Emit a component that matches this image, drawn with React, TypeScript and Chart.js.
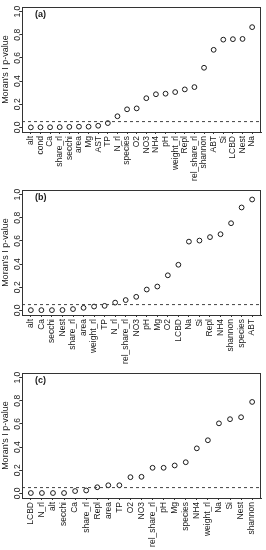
import React, { useEffect, useRef } from "react";
import { Chart, registerables } from "chart.js";
Chart.register(...registerables);

const catsA = ["alt", "cond", "Ca", "share_rl", "secchi", "area", "Mg", "AST", "TP", "N_rl", "species", "O2", "NO3", "NH4", "pH", "weight_rl", "Repl", "rel_share_rl", "shannon", "ABT", "Si", "LCBD", "Nest", "Na"];
const valsA = [0.0, 0.001, 0.001, 0.002, 0.004, 0.006, 0.006, 0.014, 0.037, 0.096, 0.156, 0.164, 0.252, 0.286, 0.291, 0.305, 0.328, 0.348, 0.515, 0.67, 0.758, 0.762, 0.764, 0.866];

const catsB = ["alt", "Ca", "secchi", "Nest", "share_rl", "area", "weight_rl", "TP", "N_rl", "rel_share_rl", "NO3", "pH", "Mg", "O2", "LCBD", "Na", "Si", "Repl", "NH4", "shannon", "species", "ABT"];
const valsB = [0.002, 0.002, 0.002, 0.003, 0.011, 0.022, 0.033, 0.039, 0.067, 0.089, 0.117, 0.18, 0.206, 0.303, 0.394, 0.594, 0.603, 0.633, 0.658, 0.753, 0.889, 0.958];

const catsC = ["LCBD", "N_rl", "alt", "secchi", "Ca", "share_rl", "Repl", "area", "TP", "O2", "NO3", "rel_share_rl", "pH", "Mg", "species", "NH4", "weight_rl", "Na", "Si", "Nest", "shannon"];
const valsC = [0.003, 0.003, 0.003, 0.003, 0.02, 0.025, 0.053, 0.07, 0.07, 0.14, 0.143, 0.221, 0.221, 0.241, 0.269, 0.389, 0.459, 0.605, 0.641, 0.658, 0.79];

const threshold = 0.05;
const yTicks = [0, 0.2, 0.4, 0.6, 0.8, 1.0];
const yTitle = "Moran's I p-value";

const FONT = '"Liberation Sans", Arial, Helvetica, sans-serif';
const INK = "#1a1a1a";

const boxPlugin = {
  id: "box",
  afterDraw(chart: any) {
    const { ctx, chartArea } = chart;
    ctx.save();
    ctx.strokeStyle = "#333";
    ctx.lineWidth = 1;
    ctx.strokeRect(
      Math.round(chartArea.left) + 0.5,
      Math.round(chartArea.top) + 0.5,
      Math.round(chartArea.right - chartArea.left) - 1,
      Math.round(chartArea.bottom - chartArea.top)
    );
    ctx.restore();
  },
};

function Panel({ label, cats, vals, height }: { label: string; cats: string[]; vals: number[]; height: number }) {
  const ref = useRef<HTMLCanvasElement>(null);
  useEffect(() => {
    const n = cats.length;
    const ext = (n - 1) * 0.04;
    const xmin = 1 - ext;
    const xmax = n + ext;
    const chart = new Chart(ref.current as HTMLCanvasElement, {
      type: "scatter",
      data: {
        datasets: [
          {
            data: [
              { x: xmin, y: threshold },
              { x: xmax, y: threshold },
            ],
            showLine: true,
            borderColor: "#444",
            borderWidth: 1,
            borderDash: [3, 3],
            pointRadius: 0,
          },
          {
            data: vals.map((v, i) => ({ x: i + 1, y: v })),
            pointStyle: "circle",
            pointRadius: 2.4,
            borderColor: INK,
            borderWidth: 1,
            backgroundColor: "rgba(0,0,0,0)",
          },
        ],
      } as any,
      options: {
        responsive: false,
        animation: false,
        devicePixelRatio: 1,
        layout: { padding: { top: 7, right: 3, left: 0, bottom: 0 } },
        plugins: { legend: { display: false }, tooltip: { enabled: false } },
        scales: {
          x: {
            type: "linear",
            min: xmin,
            max: xmax,
            afterBuildTicks: (s: any) => {
              s.ticks = cats.map((_, i) => ({ value: i + 1 }));
            },
            afterFit: (s: any) => {
              s.height = height - 132;
            },
            ticks: {
              autoSkip: false,
              minRotation: 90,
              maxRotation: 90,
              padding: 2,
              color: INK,
              font: { family: FONT, size: 8.5 },
              callback: (v: any) => cats[Math.round(Number(v)) - 1] ?? "",
            },
            grid: { drawOnChartArea: false, drawTicks: true, tickLength: 2, color: "#333" },
            border: { display: true, color: "#333" },
          },
          y: {
            type: "linear",
            min: -0.04,
            max: 1.04,
            afterBuildTicks: (s: any) => {
              s.ticks = yTicks.map((v) => ({ value: v }));
            },
            afterFit: (s: any) => {
              s.width = 22;
            },
            ticks: {
              minRotation: 90,
              maxRotation: 90,
              crossAlign: "center",
              padding: -4,
              color: INK,
              font: { family: FONT, size: 8.5 },
              callback: (v: any) => Number(v).toFixed(1),
            },
            grid: { drawOnChartArea: false, drawTicks: true, tickLength: 2, color: "#333" },
            border: { display: true, color: "#333" },
            title: {
              display: true,
              text: yTitle,
              color: INK,
              font: { family: FONT, size: 9 },
              padding: { top: 0, bottom: 0 },
            },
          },
        },
      } as any,
      plugins: [boxPlugin],
    });
    return () => chart.destroy();
  }, []);
  return (
    <div style={{ position: "relative", width: 266, height }}>
      <canvas ref={ref} width={266} height={height} style={{ display: "block" }} />
      <div
        style={{
          position: "absolute",
          left: 35,
          top: 10,
          fontFamily: FONT,
          fontWeight: "bold",
          fontSize: 9,
          lineHeight: "9px",
          color: INK,
        }}
      >
        {label}
      </div>
    </div>
  );
}

export default function App() {
  return (
    <div style={{ position: "absolute", left: 0, top: 0, width: 266, height: 550, background: "#fff" }}>
      <Panel label="(a)" cats={catsA} vals={valsA} height={183} />
      <Panel label="(b)" cats={catsB} vals={valsB} height={183} />
      <Panel label="(c)" cats={catsC} vals={valsC} height={184} />
    </div>
  );
}
